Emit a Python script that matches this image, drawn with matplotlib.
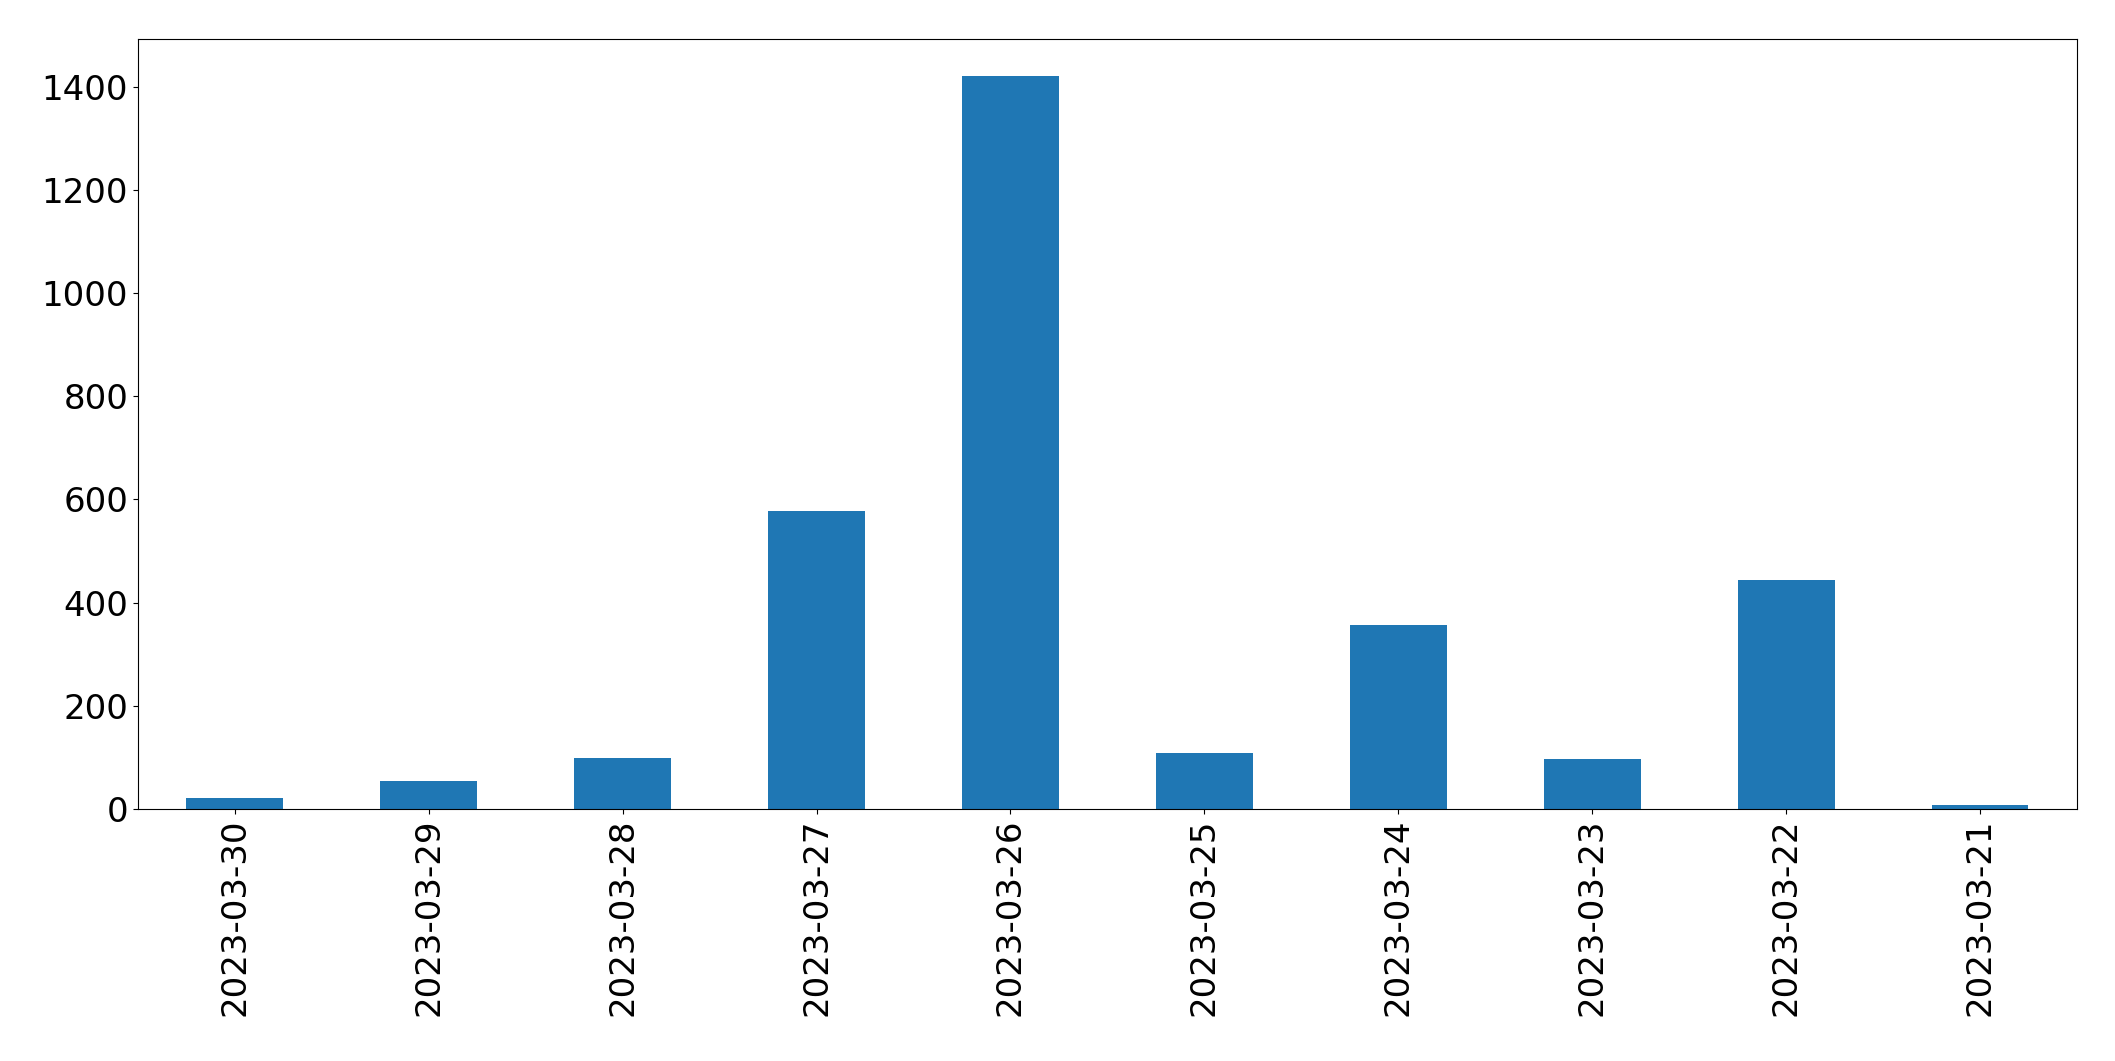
import matplotlib
matplotlib.use("Agg")
import matplotlib.pyplot as plt
import pandas as pd

# dates come newest first, as in the original frame
dates = ["2023-03-30", "2023-03-29", "2023-03-28", "2023-03-27", "2023-03-26",
         "2023-03-25", "2023-03-24", "2023-03-23", "2023-03-22", "2023-03-21"]
counts = [21, 54, 99, 578, 1421, 109, 357, 97, 444, 8]

s = pd.Series(counts, index=dates)

plt.rcParams["font.size"] = 24.5

fig, ax = plt.subplots(figsize=(21.15, 10.61), dpi=100)
s.plot(kind="bar", ax=ax)
ax.tick_params(axis="both", labelsize=24.5)
fig.subplots_adjust(left=0.0652, right=0.982, top=0.963, bottom=0.2375)

fig.savefig("out.png", dpi=100)
